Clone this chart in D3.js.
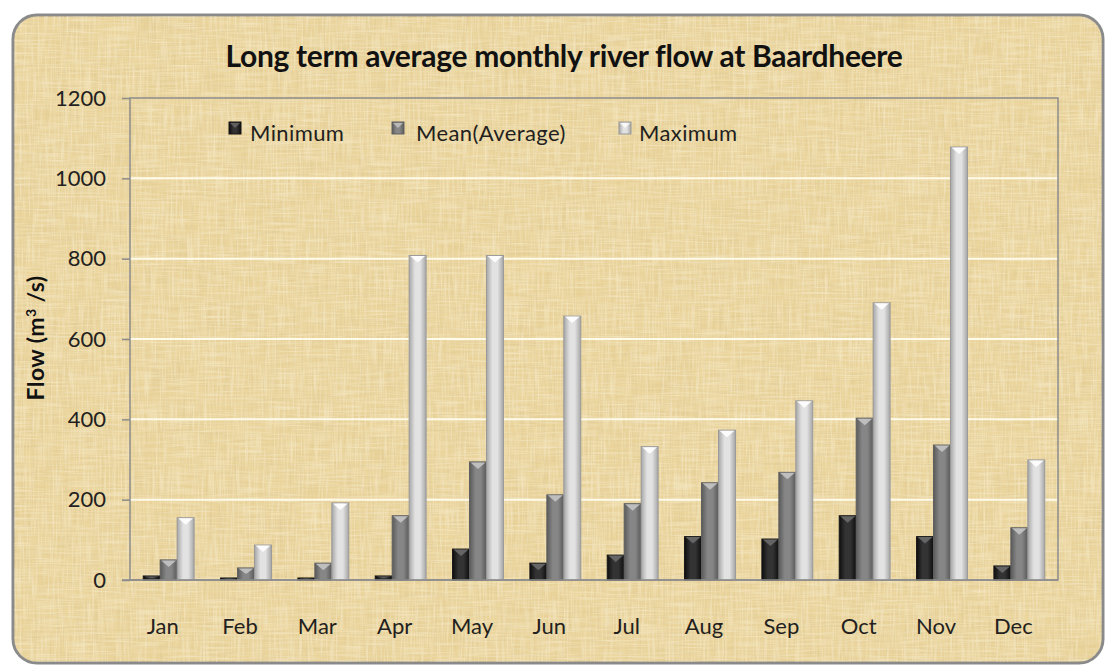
<!DOCTYPE html>
<html>
<head>
<meta charset="utf-8">
<script src="https://cdn.jsdelivr.net/npm/d3@7"></script>
<style>
  body { margin: 0; background: #fff; }
  svg text { font-family: Lato, "Open Sans", sans-serif; fill: #231f20; }
</style>
</head>
<body>
<div class="chart"></div>
<script>
// data
const months = ['Jan','Feb','Mar','Apr','May','Jun','Jul','Aug','Sep','Oct','Nov','Dec'];
const seriesNames = ['Minimum','Mean(Average)','Maximum'];
const minimum = [10, 5, 5, 10, 77, 42, 62, 108, 102, 160, 108, 35];
const mean    = [50, 30, 42, 160, 294, 212, 190, 242, 268, 403, 336, 130];
const maximum = [155, 87, 192, 808, 808, 657, 332, 373, 446, 690, 1078, 299];
const yTicks  = [0, 200, 400, 600, 800, 1000, 1200];

const width = 1106, height = 666;
const margin = {top: 98, right: 48, bottom: 86, left: 130};
const graphWidth = width - margin.left - margin.right;
const graphHeight = height - margin.top - margin.bottom;

const colors = [
  {edge: '#0e0e0e', mid: '#333333', top: '#6a6a6a', stroke: '#151515'},
  {edge: '#5a5a5a', mid: '#868686', top: '#c4c4c4', stroke: '#5f5f5f'},
  {edge: '#a6a6a6', mid: '#e2e2e2', top: '#ffffff', stroke: '#9a9a9a'}
];

const svg = d3.select('.chart')
  .append('svg')
    .attr('width', width)
    .attr('height', height);

const defs = svg.append('defs');

// papyrus-like woven texture
const paper = defs.append('filter')
  .attr('id', 'paper')
  .attr('filterUnits', 'userSpaceOnUse')
  .attr('x', 0).attr('y', 0).attr('width', width).attr('height', height);

function fibres(freq, seed, rgb, alpha, name) {
  paper.append('feTurbulence')
    .attr('type', 'fractalNoise').attr('baseFrequency', freq)
    .attr('numOctaves', 2).attr('seed', seed).attr('result', name + 'N');
  paper.append('feColorMatrix').attr('in', name + 'N').attr('type', 'matrix')
    .attr('values', `0 0 0 0 ${rgb[0]}  0 0 0 0 ${rgb[1]}  0 0 0 0 ${rgb[2]}  ${alpha[0]} 0 0 0 ${alpha[1]}`)
    .attr('result', name);
}
fibres('0.008 0.01', 2, [0.82, 0.66, 0.34], [1.2, -0.55], 'blot');
fibres('0.5 0.02', 4, [0.66, 0.52, 0.26], [1.8, -0.8], 'vDark');
fibres('0.02 0.5', 7, [0.66, 0.52, 0.26], [1.8, -0.8], 'hDark');
fibres('0.55 0.03', 11, [1, 0.97, 0.86], [1.8, -0.8], 'vLight');
fibres('0.03 0.55', 13, [1, 0.97, 0.86], [1.8, -0.8], 'hLight');
const merge = paper.append('feMerge').attr('result', 'tex');
['blot', 'vDark', 'hDark', 'vLight', 'hLight'].forEach(n => merge.append('feMergeNode').attr('in', n));
paper.append('feComposite').attr('in', 'tex').attr('in2', 'SourceAlpha').attr('operator', 'in');

colors.forEach((c, i) => {
  const g = defs.append('linearGradient').attr('id', 'bar' + i)
    .attr('x1', 0).attr('x2', 1).attr('y1', 0).attr('y2', 0);
  g.append('stop').attr('offset', '0%').attr('stop-color', c.edge);
  g.append('stop').attr('offset', '35%').attr('stop-color', c.mid);
  g.append('stop').attr('offset', '65%').attr('stop-color', c.mid);
  g.append('stop').attr('offset', '100%').attr('stop-color', c.edge);
});

// background panel
svg.append('rect')
  .attr('x', 13).attr('y', 15).attr('width', 1090).attr('height', 648)
  .attr('rx', 24)
  .attr('fill', '#ebd59c')
  .attr('stroke', '#8a8a8a')
  .attr('stroke-width', 3);
svg.append('rect')
  .attr('x', 14).attr('y', 16).attr('width', 1088).attr('height', 646)
  .attr('rx', 23)
  .attr('fill', '#000')
  .attr('filter', 'url(#paper)')
  .attr('opacity', 0.45);

const graph = svg.append('g')
  .attr('transform', `translate(${margin.left}, ${margin.top})`);

// scales
const y = d3.scaleLinear()
  .domain([0, 1200])
  .range([graphHeight, 0]);

const x0 = d3.scaleBand()
  .domain(months)
  .range([0, graphWidth]);

const x1 = d3.scaleBand()
  .domain(seriesNames)
  .range([0, x0.bandwidth()])
  .paddingOuter(0.78);

// gridlines
graph.append('g')
  .selectAll('line')
  .data(yTicks.filter(t => t > 0 && t < 1200))
  .enter().append('line')
    .attr('x1', 0).attr('x2', graphWidth)
    .attr('y1', d => y(d)).attr('y2', d => y(d))
    .attr('stroke', '#fffbea')
    .attr('stroke-width', 2);

// plot border
graph.append('rect')
  .attr('width', graphWidth).attr('height', graphHeight)
  .attr('fill', 'none')
  .attr('stroke', '#8c8c8c')
  .attr('stroke-width', 1.5);

// bars
const rows = months.map((m, i) => ({month: m, values: [minimum[i], mean[i], maximum[i]]}));

const groups = graph.selectAll('g.month')
  .data(rows)
  .enter().append('g')
    .attr('class', 'month')
    .attr('transform', d => `translate(${x0(d.month)}, 0)`);

const bars = groups.selectAll('g.bar')
  .data(d => d.values.map((v, k) => ({name: seriesNames[k], k: k, value: v})))
  .enter().append('g')
    .attr('class', 'bar');

bars.append('rect')
  .attr('x', d => x1(d.name))
  .attr('y', d => y(d.value))
  .attr('width', x1.bandwidth())
  .attr('height', d => graphHeight - y(d.value))
  .attr('fill', d => `url(#bar${d.k})`)
  .attr('stroke', d => colors[d.k].stroke)
  .attr('stroke-width', 1);

// bevelled cap
bars.append('path')
  .attr('d', d => {
    const bx = x1(d.name), bw = x1.bandwidth(), by = y(d.value);
    const h = Math.min(7, (graphHeight - by) / 2);
    return `M${bx + 1},${by + 0.5} L${bx + bw - 1},${by + 0.5} L${bx + bw / 2},${by + h} Z`;
  })
  .attr('fill', d => colors[d.k].top)
  .attr('opacity', 0.9);

// axes
const yAxis = d3.axisLeft(y)
  .tickValues(yTicks)
  .tickFormat(d3.format('d'))
  .tickSize(8)
  .tickPadding(16);
const yAxisGroup = graph.append('g').call(yAxis);
yAxisGroup.select('.domain').remove();
yAxisGroup.selectAll('line').attr('stroke', '#8c8c8c').attr('stroke-width', 1.5);
yAxisGroup.selectAll('text')
  .attr('font-size', 22)
  .attr('font-family', 'Lato, "Open Sans", sans-serif')
  .attr('fill', '#231f20');

const xAxis = d3.axisBottom(x0).tickSize(0).tickPadding(38);
const xAxisGroup = graph.append('g')
  .attr('transform', `translate(0, ${graphHeight})`)
  .call(xAxis);
xAxisGroup.select('.domain').remove();
xAxisGroup.selectAll('text')
  .attr('font-size', 22)
  .attr('dx', -6)
  .attr('font-family', 'Lato, "Open Sans", sans-serif')
  .attr('fill', '#231f20');

// baseline extends slightly left like the tick marks
graph.append('line')
  .attr('x1', -8).attr('x2', graphWidth)
  .attr('y1', graphHeight).attr('y2', graphHeight)
  .attr('stroke', '#8c8c8c').attr('stroke-width', 1.5);

// title
svg.append('text')
  .attr('x', 564).attr('y', 67)
  .attr('text-anchor', 'middle')
  .attr('font-size', 30)
  .attr('font-weight', 'bold')
  .style('fill', '#111')
  .style('letter-spacing', '-0.3px')
  .text('Long term average monthly river flow at Baardheere');

// y label
const yLabel = svg.append('text')
  .attr('transform', 'translate(44, 338) rotate(-90)')
  .attr('text-anchor', 'middle')
  .attr('font-size', 23)
  .attr('font-weight', 'bold')
  .style('fill', '#111')
  .style('letter-spacing', '0.4px');
yLabel.append('tspan').text('Flow (m');
yLabel.append('tspan').attr('dy', -8).attr('font-size', 14).text('3');
yLabel.append('tspan').attr('dy', 8).text(' /s)');

// legend
const legendX = [229, 392, 619];
const legendTextX = [250, 416, 639];
const legend = svg.append('g').selectAll('g')
  .data(seriesNames)
  .enter().append('g')
    .attr('transform', (d, i) => `translate(${legendX[i]}, 122)`);
legend.append('rect')
  .attr('width', 12).attr('height', 12)
  .attr('fill', (d, i) => `url(#bar${i})`)
  .attr('stroke', (d, i) => colors[i].stroke);
legend.append('path')
  .attr('d', 'M1,1 L11,1 L6,6 Z')
  .attr('fill', (d, i) => colors[i].top)
  .attr('opacity', 0.8);
legend.append('text')
  .attr('x', (d, i) => legendTextX[i] - legendX[i])
  .attr('y', 19)
  .attr('font-size', 22)
  .style('letter-spacing', '0.4px')
  .text(d => d);
</script>
</body>
</html>
